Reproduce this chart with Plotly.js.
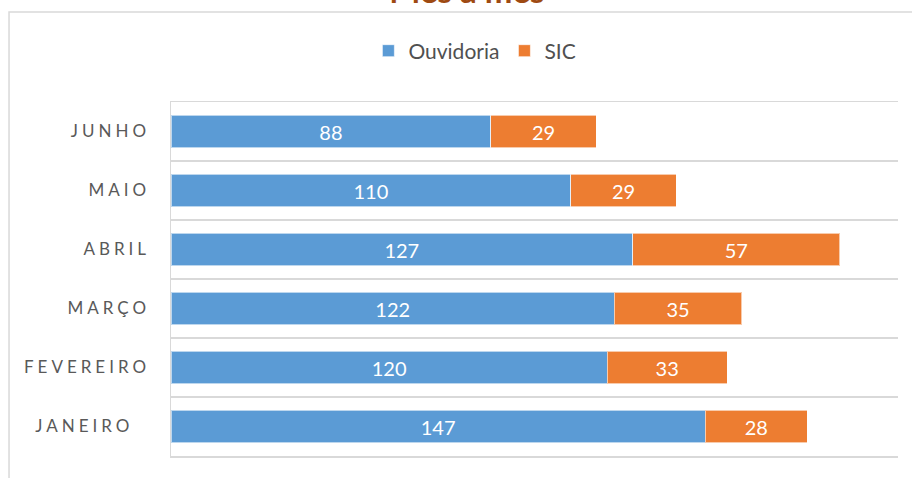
<!DOCTYPE html>
<html>
<head>
<meta charset="utf-8">
<script src="https://cdn.plot.ly/plotly-3.0.1.min.js"></script>
<style>
  html, body { margin: 0; padding: 0; background: #fff; }
  #chart { width: 912px; height: 478px; }
  .yaxislayer-above text { letter-spacing: 4px; }
</style>
</head>
<body>
<div id="chart"></div>
<script>
const months = ['JANEIRO', 'FEVEREIRO', 'MARÇO', 'ABRIL', 'MAIO', 'JUNHO'];
const monthLabels = ['JANEIRO\u00A0\u00A0', 'FEVEREIRO', 'MARÇO', 'ABRIL', 'MAIO', 'JUNHO'];
const ouvidoria = [147, 120, 122, 127, 110, 88];
const sic = [28, 33, 35, 57, 29, 29];

const FONT = 'Lato, "Open Sans", sans-serif';

const traces = [
  {
    type: 'bar', orientation: 'h', name: 'Ouvidoria',
    y: months, x: ouvidoria,
    text: ouvidoria.map(String), textposition: 'inside', insidetextanchor: 'middle',
    textfont: { family: FONT, size: 20, color: '#ffffff' },
    marker: { color: '#5B9BD5', line: { color: 'rgba(255,255,255,0.6)', width: 1 } },
    hoverinfo: 'x+y+name'
  },
  {
    type: 'bar', orientation: 'h', name: 'SIC',
    y: months, x: sic,
    text: sic.map(String), textposition: 'inside', insidetextanchor: 'middle',
    textfont: { family: FONT, size: 20, color: '#ffffff' },
    marker: { color: '#ED7D31', line: { color: 'rgba(255,255,255,0.6)', width: 1 } },
    hoverinfo: 'x+y+name'
  }
];

const layout = {
  width: 912, height: 478,
  margin: { l: 171, r: 14, t: 102, b: 22 },
  paper_bgcolor: '#ffffff', plot_bgcolor: '#ffffff',
  barmode: 'stack', bargap: 0.445,
  font: { family: FONT, color: '#595959' },
  title: {
    text: '<b>Mês a mês</b>',
    font: { family: FONT, size: 33, color: '#9E4A12' },
    x: 0.512, xanchor: 'center', xref: 'container',
    y: 0.993, yanchor: 'bottom', yref: 'container'
  },
  showlegend: true,
  legend: {
    orientation: 'h', x: 0.418, xanchor: 'center', y: 1.144, yanchor: 'middle',
    font: { family: FONT, size: 21, color: '#505050' },
    traceorder: 'normal'
  },
  xaxis: {
    range: [0, 200], showgrid: false, zeroline: false, showticklabels: false,
    showline: true, mirror: 'all', linecolor: '#D9D9D9', linewidth: 1.5,
    ticks: '', fixedrange: true
  },
  yaxis: {
    type: 'category', tickson: 'boundaries',
    tickvals: months, ticktext: monthLabels,
    showgrid: true, gridcolor: '#D9D9D9', gridwidth: 1.5,
    showline: true, linecolor: '#D9D9D9', linewidth: 1.5,
    ticks: '', ticklabelstandoff: 16,
    tickfont: { family: FONT, size: 17, color: '#595959' },
    zeroline: false, fixedrange: true
  },
  shapes: [
    {
      type: 'rect', xref: 'paper', yref: 'paper',
      x0: -0.2228, x1: 1.2, y0: -0.3, y1: 1.2542,
      line: { color: '#D9D9D9', width: 1.5 }, fillcolor: 'rgba(0,0,0,0)', layer: 'below'
    }
  ]
};

Plotly.newPlot('chart', traces, layout, { displayModeBar: false, staticPlot: true });
</script>
</body>
</html>
